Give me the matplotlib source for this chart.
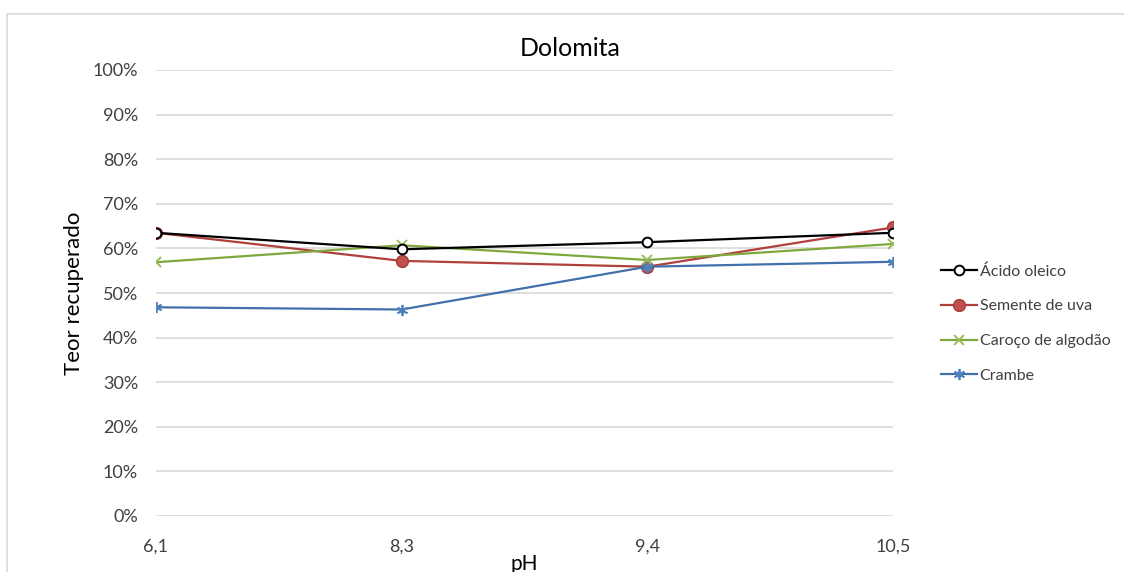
import matplotlib
matplotlib.use("Agg")
import matplotlib.pyplot as plt
from matplotlib.patches import Rectangle
from matplotlib.ticker import PercentFormatter, FixedLocator

plt.rcParams['font.family'] = ['Lato', 'DejaVu Sans']

# pH categories and recovered content (fraction) for each collector
ph_labels = ["6,1", "8,3", "9,4", "10,5"]
acido_oleico = [0.635, 0.598, 0.614, 0.635]
semente_uva = [0.635, 0.572, 0.559, 0.647]
caroco_algodao = [0.569, 0.607, 0.574, 0.610]
crambe = [0.468, 0.463, 0.559, 0.570]

W, H = 1124, 572
fig = plt.figure(figsize=(W / 100, H / 100), dpi=100)

# light chart-area border
fig.patches.append(Rectangle((7 / W, -0.1), 1.2, 1 - 14 / H + 0.1,
                             transform=fig.transFigure, fill=False,
                             edgecolor="#d9d9d9", linewidth=1.2))

left, right, top, bottom = 156, 893, 70, 516
ax = fig.add_axes([left / W, 1 - bottom / H, (right - left) / W, (bottom - top) / H])

x = list(range(len(ph_labels)))
ax.plot(x, acido_oleico, color="#000000", lw=1.6, marker="o", ms=7,
        mfc="white", mec="#000000", mew=1.4, label="Ácido oleico", zorder=4)
ax.plot(x, semente_uva, color="#B0403C", lw=1.6, marker="o", ms=8.5,
        mfc="#C0504D", mec="#A33A37", mew=1.0, label="Semente de uva", zorder=3)
ax.plot(x, caroco_algodao, color="#7FA83E", lw=1.6, marker="x", ms=7,
        mec="#9BBB59", mew=1.4, label="Caroço de algodão", zorder=3)
ax.plot(x, crambe, color="#4170AA", lw=1.6, marker=(6, 2, 0), ms=8,
        mec="#4F81BD", mew=1.3, label="Crambe", zorder=3)

ax.set_xlim(0, len(ph_labels) - 1)
ax.set_ylim(0, 1)
ax.xaxis.set_major_locator(FixedLocator(x))
ax.set_xticklabels(ph_labels)
ax.set_yticks([i / 10 for i in range(11)])
ax.yaxis.set_major_formatter(PercentFormatter(1.0, decimals=0))
ax.grid(axis="y", color="#d9d9d9", lw=1.2)
ax.set_axisbelow(True)
for s in ax.spines.values():
    s.set_visible(False)
ax.tick_params(length=0, labelsize=13, colors="#404040")
ax.tick_params(axis="y", pad=13)
ax.tick_params(axis="x", pad=16)

# chart title centred on the whole chart area
fig.text(570 / W, 1 - 48 / H, "Dolomita", fontsize=18, color="#000000",
         ha="center", va="center")
ax.set_ylabel("Teor recuperado", fontsize=16, color="#000000", labelpad=6)
ax.set_xlabel("pH", fontsize=15, color="#000000", labelpad=0)

leg = fig.legend(loc="upper left", bbox_to_anchor=(927 / W, 1 - 250 / H),
                 frameon=False, fontsize=11.5, handlelength=2.2,
                 labelspacing=1.28, handletextpad=0.2)
for t in leg.get_texts():
    t.set_color("#404040")

fig.savefig("out.png", dpi=100)
